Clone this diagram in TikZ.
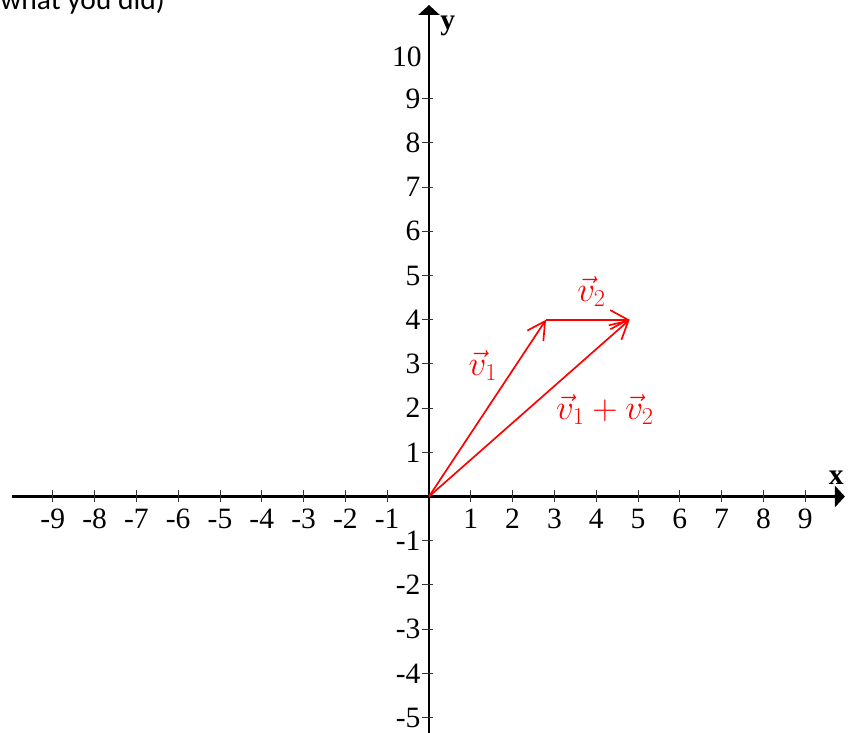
\documentclass[tikz,border=0pt]{standalone}
\usepackage{fontspec}
\setmainfont{Liberation Serif}
\newfontfamily\notefont{Carlito}
\usepackage{tikz}
\usetikzlibrary{arrows.meta,positioning}
\definecolor{vecRed}{HTML}{FF0000}
\definecolor{axisBlack}{HTML}{000000}
\tikzset{
  axisline/.style={line width=1.5pt,axisBlack,
                   -{Triangle[length=0.25cm,width=0.53cm]}},
  tickmark/.style={line width=0.6pt,axisBlack!80},
  ticklabel/.style={inner sep=0pt,font=\fontsize{21}{25}\selectfont},
  axislabel/.style={inner sep=0pt,font=\fontsize{21}{25}\selectfont\bfseries},
  vecarrow/.style={line width=1.2pt,vecRed,
                   -{Straight Barb[length=0.44cm,width=0.48cm]}},
  veclabel/.style={inner sep=0pt,text=vecRed,font=\fontsize{23}{27}\selectfont}
}

\begin{document}
\begin{tikzpicture}[x=1.045cm,y=1.105cm]
    \useasboundingbox (-10.263,-5.328) rectangle (10.263,11.233);

    % note cut at the top of the page
    \node[inner sep=0pt,anchor=base west,font=\notefont\fontsize{21}{25}\selectfont]
      (note) at (-10.263,11.007) {what you did)};

    % axes
    \coordinate (O) at (0,0);
    \coordinate (xmin) at (-9.98,0);
    \coordinate (xmax) at (9.95,0);
    \coordinate (ymin) at (0,-5.40);
    \coordinate (ymax) at (0,11.12);
    \draw[axisline] (xmin) -- (xmax);
    \draw[axisline] (ymin) -- (ymax);
    \node[axislabel] (xlab) at (9.74,0.43) {x};
    \node[axislabel] (ylab) at (0.45,10.64) {y};

    % ticks and numbers
    \foreach \i in {-9,...,-1,1,2,...,9} {
      \draw[tickmark] (\i,0.14) -- (\i,-0.12);
      \node[ticklabel] (xt\i) at (\i,-0.51) {\i};
    }
    \foreach \j in {-5,...,-1,1,2,...,9} {
      \draw[tickmark] (-0.175,\j) -- (0.1,\j);
      \node[ticklabel,anchor=east] (yt\j) at (-0.2,\j) {\j};
    }
    \node[ticklabel,anchor=east] (yt10) at (-0.17,9.94) {10};

    % vectors
    \coordinate (P) at (2.8,4);
    \coordinate (Q) at (4.8,4);
    \draw[vecarrow] (O) -- (P);
    \draw[vecarrow] (P) -- (Q);
    \draw[vecarrow] (O) -- (Q);
    \node[veclabel] (v1) at (1.29,2.97) {$\vec{v}_1$};
    \node[veclabel] (v2) at (3.89,4.64) {$\vec{v}_2$};
    \node[veclabel] (vsum) at (4.21,1.96) {$\vec{v}_1+\vec{v}_2$};
  \end{tikzpicture}
\end{document}
